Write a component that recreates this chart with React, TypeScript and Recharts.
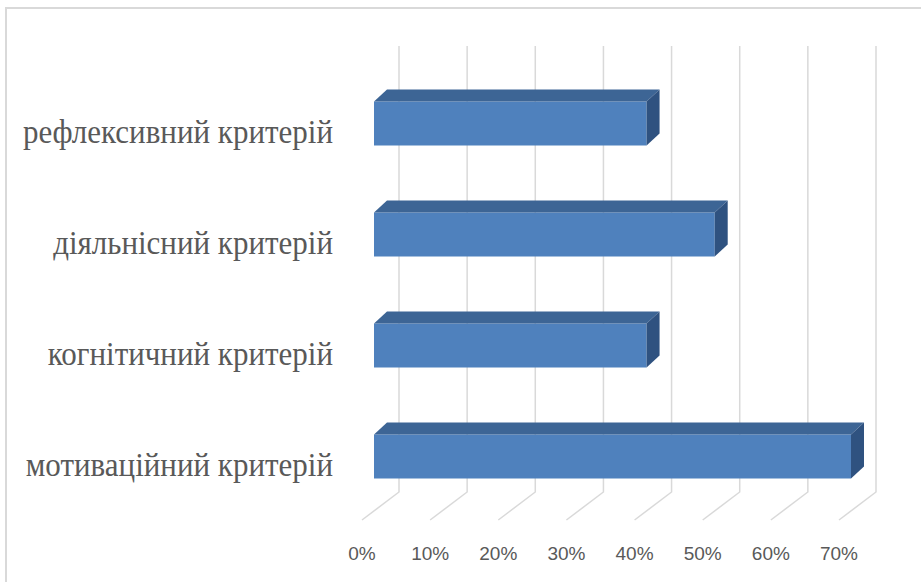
import { Bar, BarChart, CartesianGrid, XAxis, YAxis } from "recharts";

const criteria = [
  "рефлексивний критерій",
  "діяльнісний критерій",
  "когнітичний критерій",
  "мотиваційний критерій",
];
const shares = [0.4, 0.5, 0.4, 0.7];
const percentTicks = [0, 0.1, 0.2, 0.3, 0.4, 0.5, 0.6, 0.7];

const data = criteria.map((name, i) => ({ name, value: shares[i] }));

// fake 3D depth
const DX = 13;
const DY = 12;

function Bar3D(props: any) {
  const { x, y, width, height } = props;
  if (width == null || width <= 0) return null;
  const x2 = x + width;
  const y2 = y + height;
  return (
    <g>
      <rect x={x} y={y} width={width} height={height} fill="#4F81BD" />
      <polygon
        points={`${x},${y} ${x + DX},${y - DY} ${x2 + DX},${y - DY} ${x2},${y}`}
        fill="#3D6595"
      />
      <polygon
        points={`${x2},${y} ${x2 + DX},${y - DY} ${x2 + DX},${y2 - DY} ${x2},${y2}`}
        fill="#2F5280"
      />
    </g>
  );
}

function GridLine(props: any) {
  const { x1, y1, y2 } = props;
  return (
    <path
      key={props.key}
      d={`M${x1 + 25},${y1 - 21.5} L${x1 + 25},${y2 - 19.5} L${x1 - 12},${y2 + 8.5}`}
      fill="none"
      stroke="#d9d9d9"
      strokeWidth={1.5}
    />
  );
}

function CategoryTick(props: any) {
  const { x, y, payload } = props;
  return (
    <text
      transform={`translate(${x - 41},${y + 20}) scale(1,1.12)`}
      textAnchor="end"
      fill="#595959"
      fontFamily="'Liberation Serif', serif"
      fontSize={31}
    >
      {payload.value}
    </text>
  );
}

function PercentTick(props: any) {
  const { x, y, payload } = props;
  return (
    <text
      x={x - 12}
      y={y + 48.5}
      textAnchor="middle"
      fill="#595959"
      fontFamily="'Liberation Sans', sans-serif"
      fontSize={19}
    >
      {`${Math.round(payload.value * 100)}%`}
    </text>
  );
}

export default function App() {
  return (
    <div style={{ position: "absolute", left: 0, top: 0, width: 921, height: 582, background: "#fff" }}>
      <div
        style={{
          position: "absolute",
          left: 5,
          top: 7,
          right: 0,
          bottom: 0,
          borderTop: "2px solid #d9d9d9",
          borderLeft: "2px solid #d9d9d9",
        }}
      />
      <div style={{ position: "absolute", left: 0, top: 0 }}>
        <BarChart
          width={921}
          height={582}
          data={data}
          layout="vertical"
          margin={{ top: 67.5, right: 70, bottom: 10.5, left: 0 }}
        >
          <CartesianGrid horizontal={false} vertical={GridLine} />
          <XAxis
            type="number"
            domain={[0, 0.7]}
            ticks={percentTicks}
            height={60}
            axisLine={false}
            tickLine={false}
            tickSize={0}
            tickMargin={0}
            tick={PercentTick}
            interval={0}
          />
          <YAxis
            type="category"
            dataKey="name"
            width={374}
            axisLine={false}
            tickLine={false}
            tickSize={0}
            tickMargin={0}
            tick={CategoryTick}
            interval={0}
          />
          <Bar dataKey="value" barSize={44} shape={Bar3D} isAnimationActive={false} />
        </BarChart>
      </div>
    </div>
  );
}
